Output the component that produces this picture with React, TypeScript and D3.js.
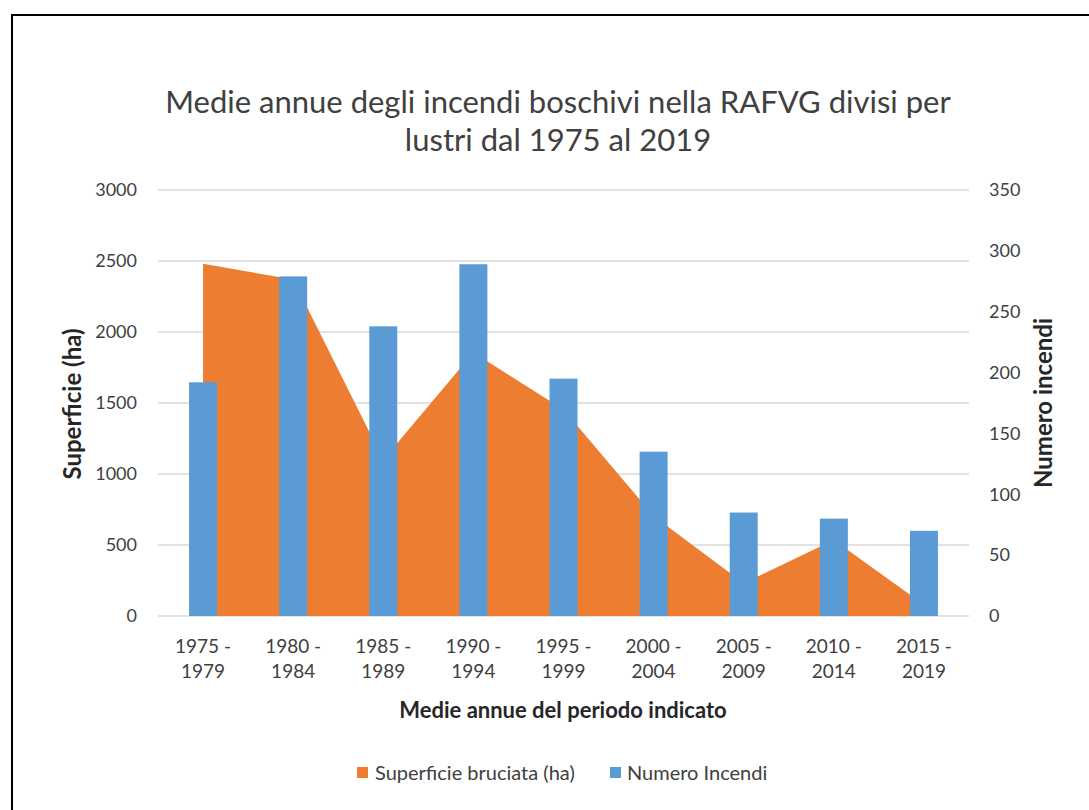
import React from "react";
import * as d3 from "d3";

const periods: string[][] = [
  ["1975 -", "1979"],
  ["1980 -", "1984"],
  ["1985 -", "1989"],
  ["1990 -", "1994"],
  ["1995 -", "1999"],
  ["2000 -", "2004"],
  ["2005 -", "2009"],
  ["2010 -", "2014"],
  ["2015 -", "2019"],
];
const burnedArea: number[] = [2480, 2370, 1100, 1855, 1455, 705, 230, 535, 80];
const fireCount: number[] = [192, 279, 238, 289, 195, 135, 85, 80, 70];
const leftTicks: number[] = [0, 500, 1000, 1500, 2000, 2500, 3000];
const rightTicks: number[] = [0, 50, 100, 150, 200, 250, 300, 350];

const W = 1089;
const H = 810;
const plot = { left: 158, right: 969, top: 190, bottom: 616 };
const ORANGE = "#ED7D31";
const BLUE = "#5B9BD5";
const GRID = "#D9D9D9";
const TEXT = "#404040";
const FONT = "Lato, 'Open Sans', sans-serif";

export default function App() {
  const keys = periods.map((p) => p.join(" "));
  const x = d3.scaleBand<string>().domain(keys).range([plot.left, plot.right]).padding(0);
  const yL = d3.scaleLinear().domain([0, 3000]).range([plot.bottom, plot.top]);
  const yR = d3.scaleLinear().domain([0, 350]).range([plot.bottom, plot.top]);
  const cx = (i: number) => (x(keys[i]) as number) + x.bandwidth() / 2;
  const barW = 28;

  const areaGen = d3
    .area<number>()
    .x((_, i) => cx(i))
    .y0(yL(0))
    .y1((d) => yL(d));

  return (
    <svg
      width={W}
      height={H}
      style={{ position: "absolute", left: 0, top: 0, background: "#fff" }}
      fontFamily={FONT}
    >
      <rect x={0} y={0} width={W} height={H} fill="#fff" />
      {/* outer frame */}
      <path d={`M12,${H + 5} L12,15 L${W + 5},15`} fill="none" stroke="#000" strokeWidth={2} />

      {/* title */}
      <text x={558} y={113} textAnchor="middle" fontSize={31} fill={TEXT}>
        Medie annue degli incendi boschivi nella RAFVG divisi per
      </text>
      <text x={558} y={151} textAnchor="middle" fontSize={31} fill={TEXT}>
        lustri dal 1975 al 2019
      </text>

      {/* gridlines */}
      {leftTicks.map((t) => (
        <line
          key={"g" + t}
          x1={plot.left}
          x2={plot.right}
          y1={yL(t)}
          y2={yL(t)}
          stroke={GRID}
          strokeWidth={1.5}
        />
      ))}

      {/* burned surface area */}
      <path d={areaGen(burnedArea) || ""} fill={ORANGE} />

      {/* number of fires */}
      {fireCount.map((v, i) => (
        <rect
          key={"b" + i}
          x={cx(i) - barW / 2}
          y={yR(v)}
          width={barW}
          height={yR(0) - yR(v)}
          fill={BLUE}
        />
      ))}

      {/* left axis labels */}
      {leftTicks.map((t) => (
        <text
          key={"l" + t}
          x={137}
          y={yL(t)}
          dy="0.35em"
          textAnchor="end"
          fontSize={18}
          fill={TEXT}
        >
          {t}
        </text>
      ))}
      {/* right axis labels */}
      {rightTicks.map((t) => (
        <text
          key={"r" + t}
          x={989}
          y={yR(t)}
          dy="0.35em"
          textAnchor="start"
          fontSize={18}
          fill={TEXT}
        >
          {t}
        </text>
      ))}

      {/* category labels */}
      {periods.map((p, i) => (
        <text key={"c" + i} textAnchor="middle" fontSize={19} fill={TEXT}>
          <tspan x={cx(i)} y={653}>
            {p[0]}
          </tspan>
          <tspan x={cx(i)} y={678}>
            {p[1]}
          </tspan>
        </text>
      ))}

      {/* axis titles */}
      <text
        transform={`translate(81,404) rotate(-90)`}
        textAnchor="middle"
        fontSize={24}
        fontWeight="bold"
        fill="#262626"
      >
        Superficie (ha)
      </text>
      <text
        transform={`translate(1052,403) rotate(-90)`}
        textAnchor="middle"
        fontSize={24}
        fontWeight="bold"
        fill="#262626"
      >
        Numero incendi
      </text>
      <text x={563} y={718} textAnchor="middle" fontSize={22} fontWeight="bold" fill="#262626">
        Medie annue del periodo indicato
      </text>

      {/* legend */}
      <rect x={357} y={767} width={11} height={11} fill={ORANGE} />
      <text x={375} y={780} fontSize={20} fill={TEXT}>
        Superficie bruciata (ha)
      </text>
      <rect x={610} y={767} width={11} height={11} fill={BLUE} />
      <text x={627} y={780} fontSize={20} fill={TEXT}>
        Numero Incendi
      </text>
    </svg>
  );
}
